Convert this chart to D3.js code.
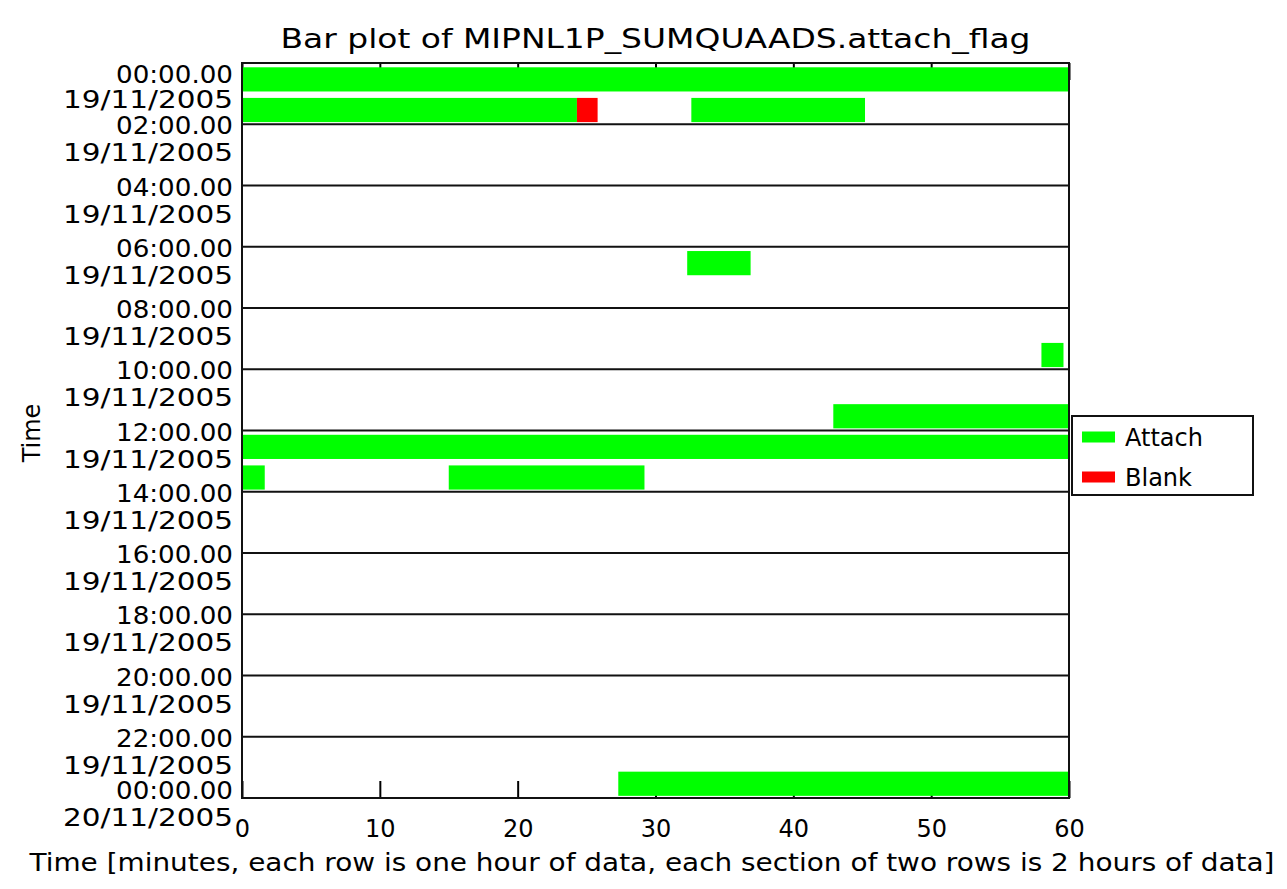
<!DOCTYPE html>
<html>
<head>
<meta charset="utf-8">
<script src="https://cdn.jsdelivr.net/npm/d3@7"></script>
<style>
  html, body { margin: 0; padding: 0; background: #fff; }
  svg { display: block; }
  text { font-family: "DejaVu Sans", sans-serif; fill: #000; }
</style>
</head>
<body>
<svg id="chart" width="1287" height="889"></svg>
<script>
// ---- data ----
// Section boundaries every two hours (hours since 00:00 on 19/11/2005)
const sectionHours = [0, 2, 4, 6, 8, 10, 12, 14, 16, 18, 20, 22, 24];
const sectionTimes = ["00:00.00", "02:00.00", "04:00.00", "06:00.00", "08:00.00", "10:00.00",
                      "12:00.00", "14:00.00", "16:00.00", "18:00.00", "20:00.00", "22:00.00", "00:00.00"];
const sectionDates = ["19/11/2005", "19/11/2005", "19/11/2005", "19/11/2005", "19/11/2005", "19/11/2005",
                      "19/11/2005", "19/11/2005", "19/11/2005", "19/11/2005", "19/11/2005", "19/11/2005", "20/11/2005"];
const minuteTicks = [0, 10, 20, 30, 40, 50, 60];

// Attach flag segments: [hour row, start minute, end minute]
const attachSegments = [
  [0, 0, 60],
  [1, 0, 24.3],
  [1, 32.6, 45.2],
  [6, 32.3, 36.9],
  [9, 58.0, 59.6],
  [11, 42.9, 60],
  [12, 0, 60],
  [13, 0, 1.65],
  [13, 15.0, 29.2],
  [23, 27.3, 60]
];
// Blank flag segments: [hour row, start minute, end minute]
const blankSegments = [
  [1, 24.3, 25.8]
];

const legendLabels = ["Attach", "Blank"];
const legendColors = ["#00ff00", "#ff0000"];

// ---- layout ----
const svg = d3.select("#chart");
const plot = { left: 242, right: 1069, top: 63, bottom: 798 };

const x = d3.scaleLinear().domain([0, 60]).range([plot.left, plot.right]);
const y = d3.scaleLinear().domain([0, 24]).range([plot.top, plot.bottom]);
const rowH = y(1) - y(0);

// Title
svg.append("text")
  .attr("x", (plot.left + plot.right) / 2)
  .attr("y", 48)
  .attr("text-anchor", "middle")
  .attr("font-size", 27)
  .attr("textLength", 750)
  .attr("lengthAdjust", "spacingAndGlyphs")
  .text("Bar plot of MIPNL1P_SUMQUAADS.attach_flag");

// Minute ticks (inward from bottom and top)
const xBottom = svg.append("g")
  .attr("transform", `translate(0,${plot.bottom})`)
  .call(d3.axisBottom(x).tickValues(minuteTicks).tickSize(-17).tickPadding(22).tickFormat(d3.format("d")));
xBottom.select(".domain").remove();
xBottom.selectAll("line").attr("stroke", "#000").attr("stroke-width", 2);
xBottom.selectAll("text").attr("font-size", 24).attr("fill", "#000");

const xTop = svg.append("g")
  .attr("transform", `translate(0,${plot.top})`)
  .call(d3.axisTop(x).tickValues(minuteTicks).tickSize(-17).tickFormat(""));
xTop.select(".domain").remove();
xTop.selectAll("line").attr("stroke", "#000").attr("stroke-width", 2);

// Bars
function drawSegments(segs, color) {
  svg.append("g").selectAll("rect")
    .data(segs)
    .join("rect")
    .attr("x", d => x(d[1]))
    .attr("width", d => x(d[2]) - x(d[1]))
    .attr("y", d => y(d[0]) + rowH * 0.14)
    .attr("height", rowH * 0.79)
    .attr("fill", color);
}
drawSegments(attachSegments, legendColors[0]);
drawSegments(blankSegments, legendColors[1]);

// Section separators and frame
svg.append("g").selectAll("line")
  .data(sectionHours.slice(1, -1))
  .join("line")
  .attr("x1", plot.left).attr("x2", plot.right)
  .attr("y1", d => y(d)).attr("y2", d => y(d))
  .attr("stroke", "#111").attr("stroke-width", 2);

svg.append("rect")
  .attr("x", plot.left).attr("y", plot.top)
  .attr("width", plot.right - plot.left).attr("height", plot.bottom - plot.top)
  .attr("fill", "none").attr("stroke", "#111").attr("stroke-width", 2);

// Section labels: time over date, right aligned
const yAxis = svg.append("g")
  .attr("transform", `translate(${plot.left},0)`)
  .call(d3.axisLeft(y).tickValues(sectionHours).tickSize(0).tickFormat(""));
yAxis.select(".domain").remove();
const last = sectionHours.length - 1;
yAxis.selectAll(".tick").each(function(d, i) {
  const g = d3.select(this);
  const off = i === 0 ? [11, 36] : (i === last ? [-8, 19] : [1, 28]);
  g.append("text")
    .attr("x", -9).attr("y", off[0]).attr("dy", "0.36em")
    .attr("text-anchor", "end").attr("font-size", 24).attr("fill", "#000")
    .attr("textLength", 117).attr("lengthAdjust", "spacingAndGlyphs")
    .text(sectionTimes[i]);
  g.append("text")
    .attr("x", -9).attr("y", off[1]).attr("dy", "0.36em")
    .attr("text-anchor", "end").attr("font-size", 24).attr("fill", "#000")
    .attr("textLength", 170).attr("lengthAdjust", "spacingAndGlyphs")
    .text(sectionDates[i]);
});

// Axis titles
svg.append("text")
  .attr("transform", `translate(40,433) rotate(-90)`)
  .attr("text-anchor", "middle")
  .attr("font-size", 24)
  .text("Time");

svg.append("text")
  .attr("x", 652)
  .attr("y", 871)
  .attr("text-anchor", "middle")
  .attr("font-size", 24)
  .attr("textLength", 1245)
  .attr("lengthAdjust", "spacingAndGlyphs")
  .text("Time [minutes, each row is one hour of data, each section of two rows is 2 hours of data]");

// Legend
const legend = svg.append("g");
legend.append("rect")
  .attr("x", 1072).attr("y", 416).attr("width", 181).attr("height", 79)
  .attr("fill", "#fff").attr("stroke", "#111").attr("stroke-width", 2);
const legendY = [437, 477];
legend.selectAll(".sw").data(legendLabels).join("rect")
  .attr("class", "sw")
  .attr("x", 1082).attr("y", (d, i) => legendY[i] - 5.5)
  .attr("width", 33).attr("height", 11)
  .attr("fill", (d, i) => legendColors[i]);
legend.selectAll(".lt").data(legendLabels).join("text")
  .attr("class", "lt")
  .attr("x", 1125).attr("y", (d, i) => legendY[i]).attr("dy", "0.36em")
  .attr("font-size", 24)
  .text(d => d);
</script>
</body>
</html>
